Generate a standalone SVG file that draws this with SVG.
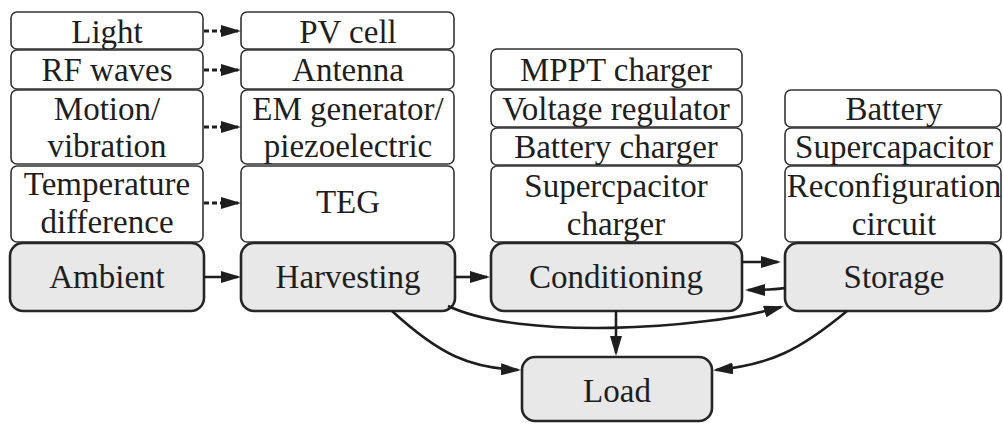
<svg xmlns="http://www.w3.org/2000/svg" width="1003" height="424" viewBox="0 0 1003 424">
<style>
  .w { fill: #ffffff; stroke: #333333; stroke-width: 1.6; }
  .g { fill: #e8e8e8; stroke: #262626; stroke-width: 2.6; }
  text { font-family: "Liberation Serif", "Times New Roman", serif; font-size: 33px; fill: #1e1e1e; text-anchor: middle; }
  .c { fill: none; stroke: #1e1e1e; stroke-width: 2.6; }
  .d { fill: none; stroke: #1e1e1e; stroke-width: 3; stroke-dasharray: 5 3; }
</style>
<defs>
  <marker id="ah" viewBox="0 0 20 12" refX="17" refY="6" markerWidth="20" markerHeight="12" markerUnits="userSpaceOnUse" orient="auto">
    <path d="M0,0 L20,6 L0,12 z" fill="#1e1e1e"/>
  </marker>
</defs>
<rect width="1003" height="424" fill="#ffffff"/>

<g id="light"><rect class="w" x="11" y="12" width="192" height="37" rx="6"/><text x="107" y="43">Light</text></g>
<g id="rf"><rect class="w" x="11" y="50" width="192" height="39" rx="6"/><text x="107" y="81">RF waves</text></g>
<g id="motion"><rect class="w" x="11" y="90" width="192" height="74" rx="6"/><text x="107" y="120">Motion/</text><text x="107" y="157">vibration</text></g>
<g id="temp"><rect class="w" x="11" y="166" width="192" height="76" rx="6"/><text x="107" y="195">Temperature</text><text x="107" y="233">difference</text></g>
<g id="ambient"><rect class="g" x="10" y="243" width="194" height="68" rx="13"/><text x="107" y="288">Ambient</text></g>

<g id="pv"><rect class="w" x="241" y="12" width="213" height="37" rx="6"/><text x="348" y="43">PV cell</text></g>
<g id="antenna"><rect class="w" x="241" y="50" width="213" height="39" rx="6"/><text x="348" y="81">Antenna</text></g>
<g id="em"><rect class="w" x="241" y="90" width="213" height="74" rx="6"/><text x="348" y="120">EM generator/</text><text x="348" y="157">piezoelectric</text></g>
<g id="teg"><rect class="w" x="241" y="166" width="213" height="76" rx="6"/><text x="348" y="213">TEG</text></g>
<g id="harvesting"><rect class="g" x="241" y="243" width="214" height="68" rx="13"/><text x="348" y="288">Harvesting</text></g>

<g id="mppt"><rect class="w" x="491" y="49" width="251" height="40" rx="6"/><text x="616" y="81">MPPT charger</text></g>
<g id="vreg"><rect class="w" x="491" y="90" width="251" height="37" rx="6"/><text x="616" y="120">Voltage regulator</text></g>
<g id="bcharger"><rect class="w" x="491" y="128" width="251" height="37" rx="6"/><text x="616" y="158">Battery charger</text></g>
<g id="scharger"><rect class="w" x="491" y="166" width="251" height="76" rx="6"/><text x="616" y="197">Supercpacitor</text><text x="616" y="235">charger</text></g>
<g id="conditioning"><rect class="g" x="491" y="243" width="251" height="68" rx="13"/><text x="616" y="288">Conditioning</text></g>

<g id="battery"><rect class="w" x="785" y="90" width="216" height="37" rx="6"/><text x="894" y="120">Battery</text></g>
<g id="supercap"><rect class="w" x="785" y="128" width="216" height="37" rx="6"/><text x="894" y="158">Supercapacitor</text></g>
<g id="reconf"><rect class="w" x="785" y="166" width="216" height="76" rx="6"/><text x="894" y="197">Reconfiguration</text><text x="894" y="235">circuit</text></g>
<g id="storage"><rect class="g" x="785" y="243" width="216" height="68" rx="13"/><text x="894" y="288">Storage</text></g>

<g id="load"><rect class="g" x="522" y="357" width="190" height="64" rx="13"/><text x="617" y="402">Load</text></g>

<g id="connectors">
  <line class="d" x1="204" y1="31" x2="238" y2="31" marker-end="url(#ah)"/>
  <line class="d" x1="204" y1="70" x2="238" y2="70" marker-end="url(#ah)"/>
  <line class="d" x1="204" y1="127" x2="238" y2="127" marker-end="url(#ah)"/>
  <line class="d" x1="204" y1="203" x2="238" y2="203" marker-end="url(#ah)"/>
  <line class="c" x1="204" y1="277" x2="238" y2="277" marker-end="url(#ah)"/>
  <line class="c" x1="455" y1="277" x2="487" y2="277" marker-end="url(#ah)"/>
  <line class="c" x1="742" y1="262" x2="778" y2="262" marker-end="url(#ah)"/>
  <path class="c" d="M785,288 C772,290 764,290 748,290" marker-end="url(#ah)"/>
  <path class="c" d="M448,306 C520,340 700,330 781,307" marker-end="url(#ah)"/>
  <line class="c" x1="616" y1="311" x2="616" y2="353" marker-end="url(#ah)"/>
  <path class="c" d="M392,311 C440,355 470,368 518,370" marker-end="url(#ah)"/>
  <path class="c" d="M847,311 C800,350 770,365 716,370" marker-end="url(#ah)"/>
</g>
</svg>
